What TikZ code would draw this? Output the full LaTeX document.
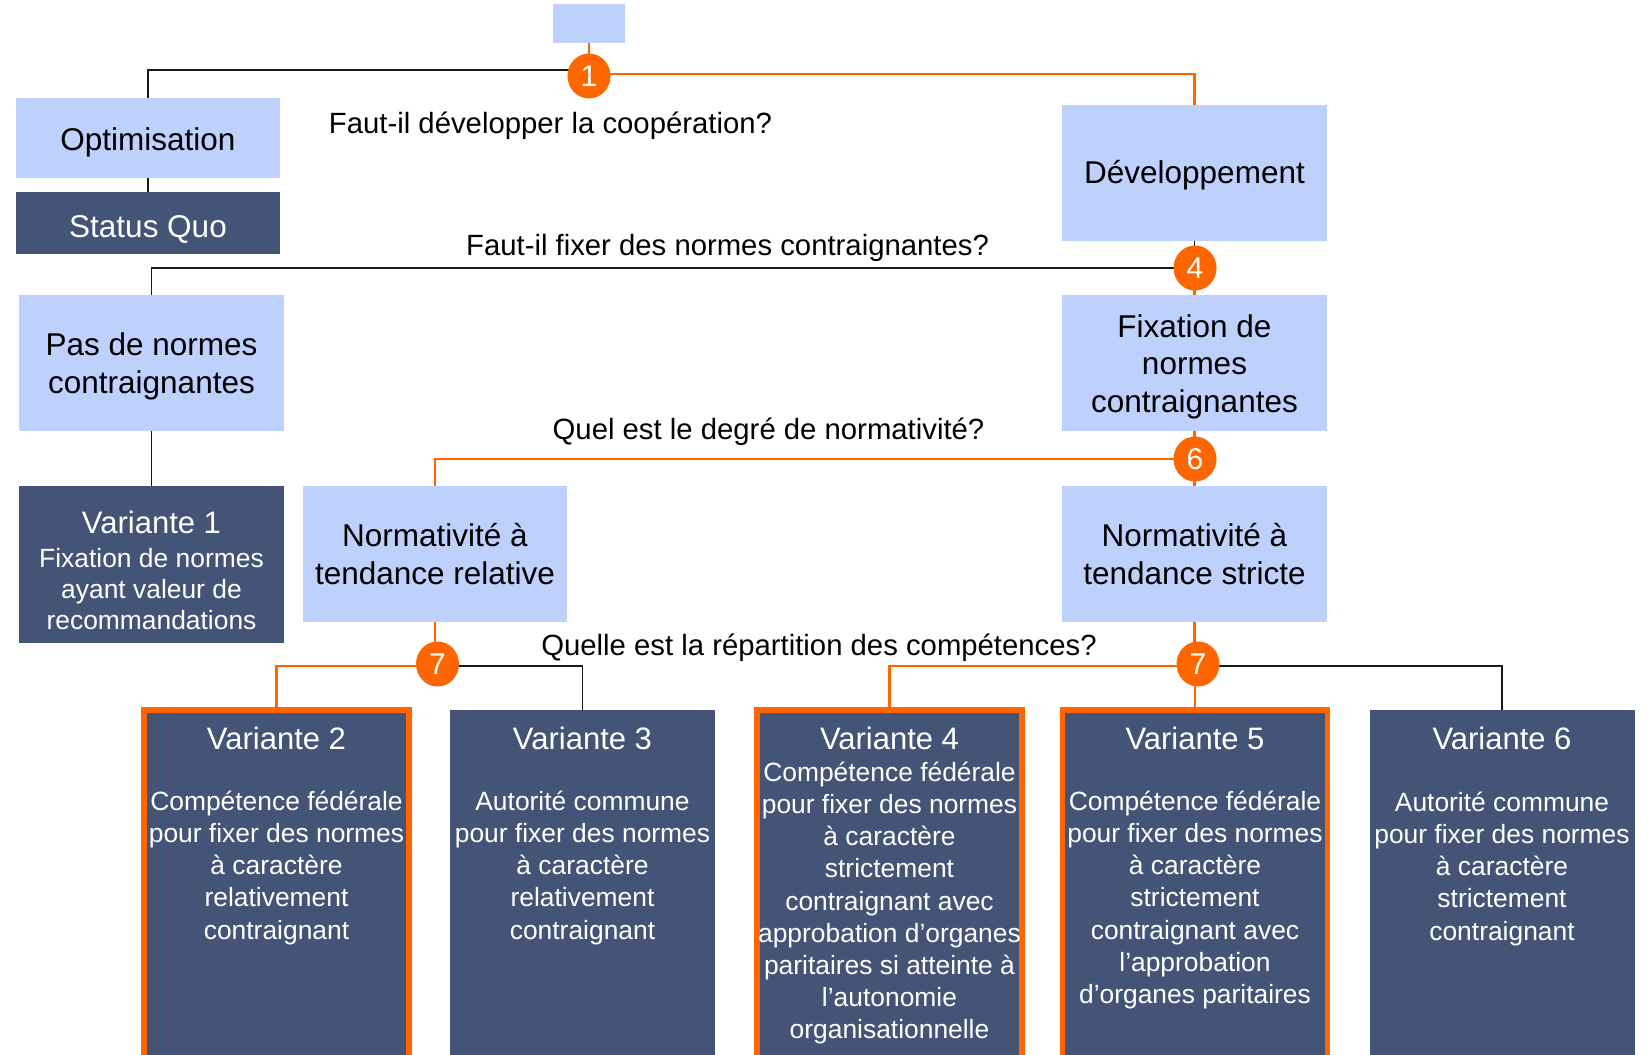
\documentclass[tikz,border=0pt]{standalone}
\usepackage{fontspec}
\setmainfont{Liberation Sans}
\definecolor{lb}{RGB}{190,208,252}
\definecolor{dk}{RGB}{67,84,118}
\definecolor{org}{RGB}{255,102,0}
\definecolor{ln}{RGB}{25,25,25}
\pgfdeclarelayer{bg}
\pgfsetlayers{bg,main}
\tikzset{
  lbox/.style={rectangle, fill=lb, inner sep=0pt},
  dbox/.style={rectangle, fill=dk, inner sep=0pt},
  obox/.style={dbox, draw=org, line width=5.5pt},
  num/.style={ellipse, fill=org, minimum width=43pt, minimum height=45pt, inner sep=0pt, text=white, font=\fontsize{30}{36}\selectfont},
  blk/.style={draw=ln, line width=1.3pt},
  orl/.style={draw=org, line width=2.6pt},
  qtext/.style={anchor=base, inner sep=0pt, font=\fontsize{29.3}{35}\selectfont},
  stext/.style={anchor=base, inner sep=0pt, font=\fontsize{31.5}{37.5}\selectfont},
  btext/.style={anchor=north, inner sep=0pt, align=center, font=\fontsize{31.5}{37.5}\selectfont},
  ttext/.style={anchor=base, inner sep=0pt, text=white, font=\fontsize{31}{37}\selectfont},
  vtext/.style={anchor=north, inner sep=0pt, align=center, text=white, font=\fontsize{26.4}{32.1}\selectfont},
}
\usetikzlibrary{shapes.geometric}
\begin{document}
\begin{tikzpicture}[x=1pt,y=-1pt]
\clip (0,0) rectangle (1650,1055);
% boxes
\node[lbox, minimum width=72pt, minimum height=39pt] (top) at (589,23.5) {};
\node[lbox, minimum width=264pt, minimum height=80pt] (opt) at (148,138) {};
\node[dbox, minimum width=264pt, minimum height=62pt] (sq) at (148,223) {};
\node[lbox, minimum width=265pt, minimum height=136pt] (dev) at (1194.5,173) {};
\node[lbox, minimum width=265pt, minimum height=136pt] (pas) at (151.5,363) {};
\node[lbox, minimum width=265pt, minimum height=136pt] (fix) at (1194.5,363) {};
\node[dbox, minimum width=265pt, minimum height=157pt] (v1) at (151.5,564.5) {};
\node[lbox, minimum width=264pt, minimum height=136pt] (nrel) at (435,554) {};
\node[lbox, minimum width=265pt, minimum height=136pt] (nstr) at (1194.5,554) {};
\node[obox, minimum width=265pt, minimum height=360pt] (v2) at (276.5,890) {};
\node[dbox, minimum width=265pt, minimum height=360pt] (v3) at (582.5,890) {};
\node[obox, minimum width=265pt, minimum height=360pt] (v4) at (889.5,890) {};
\node[obox, minimum width=265pt, minimum height=360pt] (v5) at (1195,890) {};
\node[dbox, minimum width=265pt, minimum height=360pt] (v6) at (1502,890) {};
% circles
\node[num] (c1) at (589,76) {1};
\node[num] (c4) at (1195,268) {4};
\node[num] (c6) at (1195,459) {6};
\node[num] (c7l) at (437.5,664) {7};
\node[num] (c7r) at (1198,664) {7};
% connectors
\begin{pgfonlayer}{bg}
\draw[orl] (top.south) -- (c1.center);
\draw[blk] ([yshift=6pt]c1.center) -| (opt.north);
\draw[orl] ([yshift=2pt]c1.center) -| (dev.north);
\draw[blk] (opt.south) -- (sq.north);
\draw[blk] (dev.south) -- (dev.south |- c4.center);
\draw[blk] (c4.center) -| (pas.north);
\draw[orl] (fix.north |- c4.center) -- (fix.north);
\draw[blk] (pas.south) -- (v1.north);
\draw[orl] (fix.south) -- (fix.south |- c6.center);
\draw[orl] (c6.center) -| (nrel.north);
\draw[orl] (nstr.north |- c6.center) -- (nstr.north);
\draw[orl] (nrel.south) -- (nrel.south |- c7l.center);
\draw[orl] ([yshift=-2pt]c7l.center) -| (v2.north);
\draw[blk] ([yshift=-2pt]c7l.center) -| (v3.north);
\draw[orl] (nstr.south) -- (nstr.south |- c7r.center);
\draw[orl] (v5.north |- c7r.center) -- (v5.north);
\draw[orl] ([yshift=-2pt]c7r.center) -| (v4.north);
\draw[blk] ([yshift=-2pt]c7r.center) -| (v6.north);
\end{pgfonlayer}
% questions
\node[qtext] (q1) at (550.5,133) {Faut-il développer la coopération?};
\node[qtext] (q2) at (727.5,255) {Faut-il fixer des normes contraignantes?};
\node[qtext] (q3) at (768.5,439) {Quel est le degré de normativité?};
\node[qtext] (q4) at (819,655) {Quelle est la répartition des compétences?};
% box labels
\node[stext] (topt) at (148,150) {Optimisation};
\node[stext, text=white] (tsq) at (148,237) {Status Quo};
\node[stext] (tdev) at (1194.5,183.8) {Développement};
\node[btext] (tpas) at (151.5,329.5) {\strut Pas de normes\\contraignantes};
\node[btext] (tfix) at (1194.5,311) {\strut Fixation de\\normes\\contraignantes};
\node[btext] (tnrel) at (435,520.5) {\strut Normativité à\\tendance relative};
\node[btext] (tnstr) at (1194.5,520.5) {\strut Normativité à\\tendance stricte};
% variant titles
\node[ttext] (tv1) at (151.5,533.3) {Variante 1};
\node[ttext] (tv2) at (276.5,749) {Variante 2};
\node[ttext] (tv3) at (582.5,749) {Variante 3};
\node[ttext] (tv4) at (889.5,749) {Variante 4};
\node[ttext] (tv5) at (1195,749) {Variante 5};
\node[ttext] (tv6) at (1502,749.5) {Variante 6};
% variant bodies
\node[vtext, font=\fontsize{26.4}{31.2}\selectfont] (bv1) at (151.5,545.5) {\strut Fixation de normes\\ayant valeur de\\recommandations};
\node[vtext] (bv2) at (276.5,788) {\strut Compétence fédérale\\pour fixer des normes\\à caractère\\relativement\\contraignant};
\node[vtext] (bv3) at (582.5,788) {\strut Autorité commune\\pour fixer des normes\\à caractère\\relativement\\contraignant};
\node[vtext] (bv4) at (889.5,759) {\strut Compétence fédérale\\pour fixer des normes\\à caractère\\strictement\\contraignant avec\\approbation d’organes\\paritaires si atteinte à\\l’autonomie\\organisationnelle};
\node[vtext] (bv5) at (1195,788) {\strut Compétence fédérale\\pour fixer des normes\\à caractère\\strictement\\contraignant avec\\l’approbation\\d’organes paritaires};
\node[vtext] (bv6) at (1502,789) {\strut Autorité commune\\pour fixer des normes\\à caractère\\strictement\\contraignant};
\end{tikzpicture}
\end{document}
